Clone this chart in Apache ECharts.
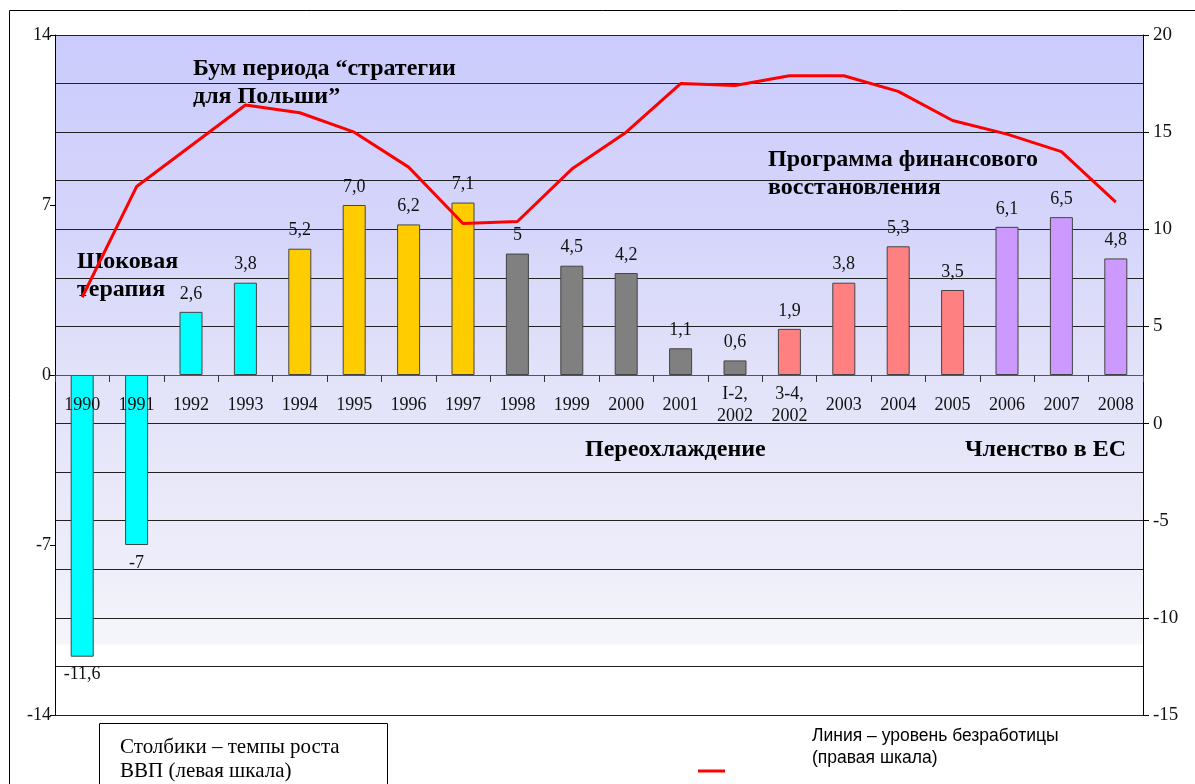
<!DOCTYPE html>
<html><head><meta charset="utf-8">
<script src="https://cdn.jsdelivr.net/npm/echarts@6/dist/echarts.min.js"></script>
<style>html,body{margin:0;padding:0;background:#fff}#c{width:1195px;height:784px}</style>
</head><body><div id="c"></div>
<script>
const categories = ['1990','1991','1992','1993','1994','1995','1996','1997','1998','1999','2000','2001','I-2,\n2002','3-4,\n2002','2003','2004','2005','2006','2007','2008'];
const gdpGrowth = [-11.6,-7,2.6,3.8,5.2,7.0,6.2,7.1,5,4.5,4.2,1.1,0.6,1.9,3.8,5.3,3.5,6.1,6.5,4.8];
const gdpLabels = ['-11,6','-7','2,6','3,8','5,2','7,0','6,2','7,1','5','4,5','4,2','1,1','0,6','1,9','3,8','5,3','3,5','6,1','6,5','4,8'];
const unemployment = [6.5,12.2,14.3,16.4,16.0,15.0,13.2,10.3,10.4,13.1,15.0,17.5,17.4,17.9,17.9,17.1,15.6,14.9,14.0,11.4];
const periods = ['shock','shock','shock','shock','boom','boom','boom','boom','cool','cool','cool','cool','cool','fin','fin','fin','fin','eu','eu','eu'];
const leftTicks = [-14,-7,0,7,14];
const rightTicks = [-15,-10,-5,0,5,10,15,20];

const periodColor = {shock:'#00ffff', boom:'#ffcc00', cool:'#808080', fin:'#ff8080', eu:'#cc99ff'};
const serif = '"Liberation Serif","Times New Roman",serif';
const sans = '"Liberation Sans",Arial,sans-serif';

const chart = echarts.init(document.getElementById('c'), null, {renderer:'canvas'});
const barData = gdpGrowth.map((v,i)=>({
  value: v,
  itemStyle: {color: periodColor[periods[i]]},
  label: {position: v < 0 ? 'bottom' : 'top', formatter: gdpLabels[i]}
}));

const gridTop = 35, gridBottom = 69, chartH = 784;
const plotH = chartH - gridTop - gridBottom;
const zeroOffset = -plotH * (0 - leftTicks[0]) / (leftTicks[leftTicks.length-1] - leftTicks[0]);

chart.setOption({
  animation: false,
  backgroundColor: '#fff',
  grid: {
    left: 55, right: 52, top: gridTop, bottom: gridBottom, show: true, borderWidth: 0,
    backgroundColor: {type:'linear', x:0, y:0, x2:0, y2:1, colorStops:[
      {offset:0, color:'#cbcbfd'},
      {offset:0.3, color:'#d6d6fb'},
      {offset:0.5, color:'#e2e2f9'},
      {offset:0.75, color:'#ececfa'},
      {offset:0.895, color:'#f5f5fb'},
      {offset:0.897, color:'#ffffff'},
      {offset:1, color:'#ffffff'}
    ]}
  },
  xAxis: {
    type: 'category', data: categories, position: 'bottom', offset: zeroOffset, z: 10,
    axisLine: {onZero: false, lineStyle: {color:'#555', width:1}},
    axisTick: {show: true, length: 7, lineStyle: {color:'#333'}},
    axisLabel: {interval: 0, color:'#111', fontFamily: serif, fontSize: 18, margin: 30, verticalAlign:'middle', lineHeight: 22},
    splitLine: {show:false}
  },
  yAxis: [
    {type:'value', min: leftTicks[0], max: leftTicks[leftTicks.length-1], interval: 7,
     axisLine:{show:true, lineStyle:{color:'#000'}},
     axisTick:{show:true, length:5, lineStyle:{color:'#000'}},
     axisLabel:{color:'#111', fontFamily: serif, fontSize: 18, margin: 4},
     splitLine:{show:false}},
    {type:'value', min: rightTicks[0], max: rightTicks[rightTicks.length-1], interval: 5,
     position:'right',
     axisLine:{show:true, lineStyle:{color:'#000'}},
     axisTick:{show:true, length:6, lineStyle:{color:'#000'}},
     axisLabel:{color:'#111', fontFamily: serif, fontSize: 19, margin: 10},
     splitLine:{show:true, lineStyle:{color:'#222', width:1}},
     minorTick:{show:false, splitNumber:2},
     minorSplitLine:{show:true, lineStyle:{color:'#222', width:1}}}
  ],
  series: [
    {type:'bar', yAxisIndex:0, data: barData, barWidth: 23, z: 3,
     itemStyle:{borderColor:'#444', borderWidth:1},
     label:{show:true, distance: 9, color:'#111', fontFamily: serif, fontSize: 18}},
    {type:'line', yAxisIndex:1, data: unemployment, symbol:'none', z: 5,
     lineStyle:{color:'#ff0000', width:3}}
  ],
  graphic: [
    {type:'rect', z:100, silent:true, shape:{x:9.5, y:10.5, width:1200, height:800}, style:{fill:null, stroke:'#000', lineWidth:1}},
    {type:'text', z:2, left:193, top:55, style:{text:'Бум периода “стратегии\nдля Польши”', font:'bold 24px '+serif, fill:'#000', lineHeight:28}},
    {type:'text', z:2, left:77, top:248, style:{text:'Шоковая\nтерапия', font:'bold 24px '+serif, fill:'#000', lineHeight:28}},
    {type:'text', z:2, left:768, top:146, style:{text:'Программа финансового\nвосстановления', font:'bold 24px '+serif, fill:'#000', lineHeight:28}},
    {type:'text', z:2, left:585, top:436, style:{text:'Переохлаждение', font:'bold 24px '+serif, fill:'#000', lineHeight:28}},
    {type:'text', z:2, left:965, top:436, style:{text:'Членство в ЕС', font:'bold 24px '+serif, fill:'#000', lineHeight:28}},
    {type:'rect', z:100, silent:true, shape:{x:99.5, y:723.5, width:288, height:80}, style:{fill:'#fff', stroke:'#000', lineWidth:1}},
    {type:'text', z:101, left:120, top:735, style:{text:'Столбики – темпы роста\nВВП (левая шкала)', font:'21px '+serif, fill:'#000', lineHeight:24}},
    {type:'text', z:101, left:812, top:725, style:{text:'Линия – уровень безработицы\n(правая шкала)', font:'17.5px '+sans, fill:'#000', lineHeight:22}},
    {type:'line', z:101, shape:{x1:698, y1:771, x2:725, y2:771}, style:{stroke:'#ff0000', lineWidth:3}}
  ]
});
</script></body></html>
